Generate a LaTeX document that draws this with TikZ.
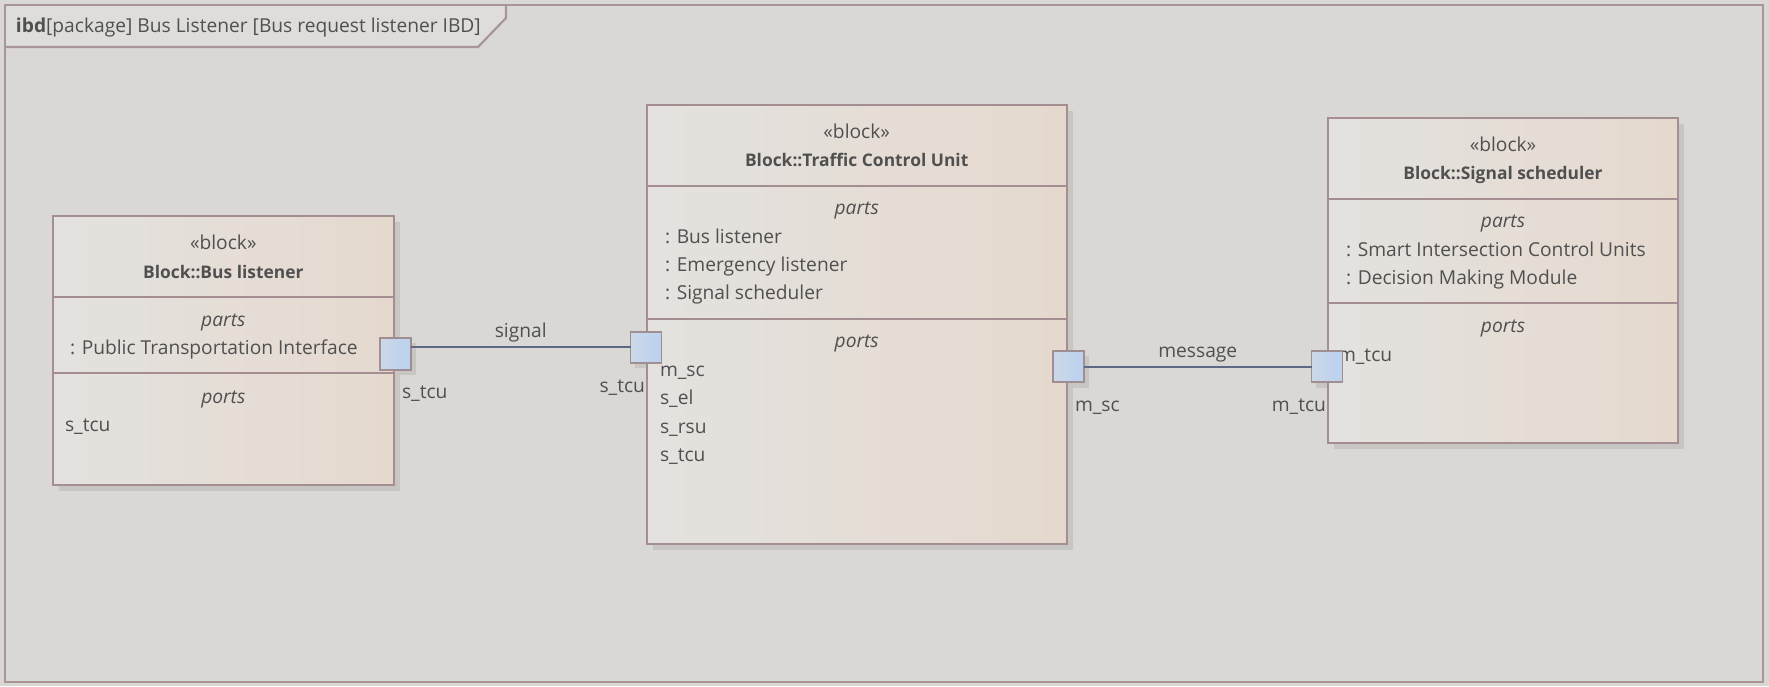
\documentclass[tikz,border=0pt]{standalone}
\usepackage{fontspec}
\setmainfont{Open Sans}
\usetikzlibrary{calc}
\definecolor{bgc}{HTML}{D9D8D4}
\definecolor{framec}{HTML}{A89597}
\definecolor{tabc}{HTML}{DEDDDA}
\definecolor{boxline}{HTML}{A48E91}
\definecolor{boxl}{HTML}{E4E2DF}
\definecolor{boxr}{HTML}{E5D9CE}
\definecolor{shadowc}{HTML}{C8C6C3}
\definecolor{txt}{HTML}{505050}
\definecolor{portl}{HTML}{CCD8E7}
\definecolor{portr}{HTML}{BAD1F0}
\definecolor{portline}{HTML}{9F8F93}
\definecolor{conn}{HTML}{5D6883}
\newcommand{\btitle}[1]{{\fontsize{17.4}{20}\selectfont\bfseries #1}}
\tikzset{
  x=1pt, y=-1pt,
  every node/.style={font=\fontsize{19.2}{22}\selectfont, text=txt, inner sep=0pt, outer sep=0pt},
  blockbox/.style={draw=boxline, line width=2.2pt, left color=boxl, right color=boxr, shading angle=90, inner sep=0pt,
     minimum width=#1},
  portbox/.style={draw=portline, line width=1.8pt, left color=portl, right color=portr, minimum width=31pt, minimum height=31pt, inner sep=0pt},
  divider/.style={draw=boxline, line width=2.2pt},
  lbl/.style={text height=0.7em, text depth=0pt, yshift=-2.5pt},
  connector/.style={draw=conn, line width=2pt},
  shadowbox/.style={fill=shadowc, draw=none}
}
\begin{document}
\begin{tikzpicture}
\useasboundingbox (0,0) rectangle (1769,686);
\fill[bgc] (0,0) rectangle (1769,686);
% frame
\fill[tabc] (5,5) -- (506,5) -- (506,18) -- (478,47) -- (5,47) -- cycle;
\draw[framec, line width=2.8pt] (5,5) rectangle (1763,682);
\draw[framec, line width=2.2pt] (5,47) -- (478,47) -- (506,18) -- (506,5);
\node[lbl, anchor=west] (title) at (16,26) {\textbf{ibd}[package] Bus Listener [Bus request listener IBD]};

% block shadows
\fill[shadowc] (59,222) rectangle (400,491);
\fill[shadowc] (653,111) rectangle (1073,550);
\fill[shadowc] (1334,124) rectangle (1684,449);

% port shadows
\fill[shadowc] (385,343) rectangle (416,375);
\fill[shadowc] (635,337) rectangle (667,368);
\fill[shadowc] (1057,356) rectangle (1089,388);
\fill[shadowc] (1316,356) rectangle (1348,388);

% blocks
\node[blockbox=341pt, minimum height=269pt] (bl) at (223.3,350.3) {};
\node[blockbox=420pt, minimum height=439pt] (tcu) at (856.7,324.5) {};
\node[blockbox=350pt, minimum height=325pt] (ss) at (1503,280.3) {};

% dividers
\draw[divider] (bl.west |- 0,297) -- (bl.east |- 0,297);
\draw[divider] (bl.west |- 0,372.7) -- (bl.east |- 0,372.7);
\draw[divider] (tcu.west |- 0,186) -- (tcu.east |- 0,186);
\draw[divider] (tcu.west |- 0,319) -- (tcu.east |- 0,319);
\draw[divider] (ss.west |- 0,199) -- (ss.east |- 0,199);
\draw[divider] (ss.west |- 0,302.7) -- (ss.east |- 0,302.7);

% Bus listener texts
\node[lbl] (bl1) at (223.3,243) {«block»};
\node[lbl] (bl2) at (223.3,272) {\btitle{Block::Bus listener}};
\node[lbl] (bl3) at (223.3,320) {\textit{parts}};
\node[lbl, anchor=west] (bl4) at (70,348) {: Public Transportation Interface};
\node[lbl] (bl5) at (223.3,397) {\textit{ports}};
\node[lbl, anchor=west] (bl6) at (65,425) {s\_tcu};

% TCU texts
\node[lbl] (t1) at (856.7,132.7) {«block»};
\node[lbl] (t2) at (856.7,160) {\btitle{Block::Traffic Control Unit}};
\node[lbl] (t3) at (856.7,208) {\textit{parts}};
\node[lbl, anchor=west] (t4) at (665,237) {: Bus listener};
\node[lbl, anchor=west] (t5) at (665,265) {: Emergency listener};
\node[lbl, anchor=west] (t6) at (665,293) {: Signal scheduler};
\node[lbl] (t7) at (856.7,341.7) {\textit{ports}};
\node[lbl, anchor=west] (t8) at (660,370.7) {m\_sc};
\node[lbl, anchor=west] (t9) at (660,398.5) {s\_el};
\node[lbl, anchor=west] (t10) at (660,427) {s\_rsu};
\node[lbl, anchor=west] (t11) at (660,455) {s\_tcu};

% Signal scheduler texts
\node[lbl] (s1) at (1503,145.7) {«block»};
\node[lbl] (s2) at (1503,173) {\btitle{Block::Signal scheduler}};
\node[lbl] (s3) at (1503,221.7) {\textit{parts}};
\node[lbl, anchor=west] (s4) at (1346,250.7) {: Smart Intersection Control Units};
\node[lbl, anchor=west] (s5) at (1346,278) {: Decision Making Module};
\node[lbl] (s6) at (1503,326.7) {\textit{ports}};
\node[lbl, anchor=west] (s7) at (1338,355) {m\_tcu};

% ports
\node[portbox, minimum height=32pt] (p1) at (395.5,353.9) {};
\node[portbox] (p2) at (646,347.3) {};
\node[portbox] (p3) at (1068.5,366.7) {};
\node[portbox] (p4) at (1327,366.7) {};

% connectors
\draw[connector] (p1.east |- p2.west) -- node[lbl, midway, yshift=16pt] (sig) {signal} (p2.west);
\draw[connector] (p3.east) -- node[lbl, midway, yshift=15pt] (msg) {message} (p4.west);

% port labels
\node[lbl, anchor=west] (l1) at (402,392.6) {s\_tcu};
\node[lbl, anchor=east] (l2) at (645,386) {s\_tcu};
\node[lbl, anchor=west] (l3) at (1075,405) {m\_sc};
\node[lbl, anchor=east] (l4) at (1326,405) {m\_tcu};
\end{tikzpicture}
\end{document}
